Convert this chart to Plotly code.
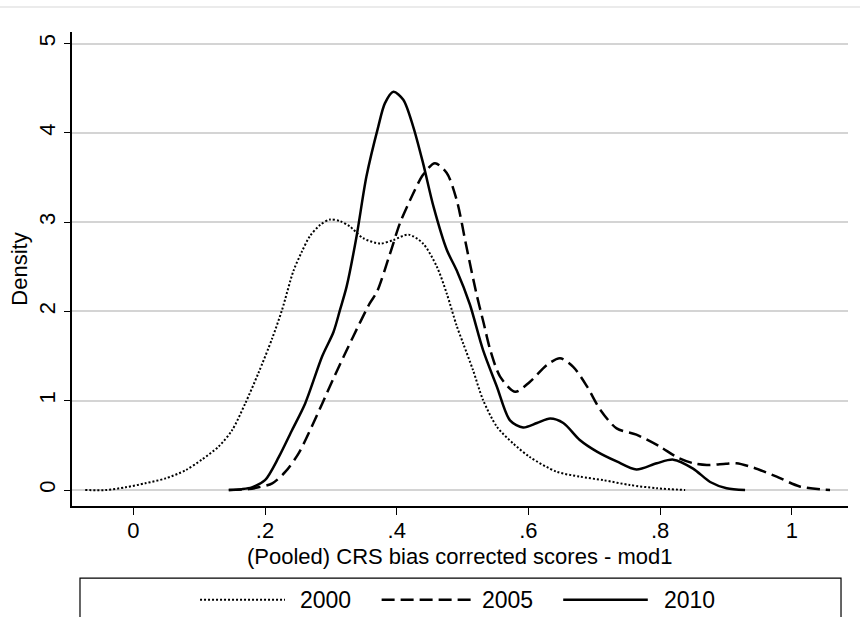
import plotly.graph_objects as go

# ---- data ----
x2000 = [-0.073, -0.042, -0.012, 0.018, 0.049, 0.079, 0.104, 0.130, 0.150, 0.170, 0.190, 0.211, 0.226,
         0.243, 0.256, 0.268, 0.284, 0.299, 0.314, 0.329, 0.349, 0.375, 0.395, 0.418, 0.440, 0.461,
         0.476, 0.491, 0.501, 0.516, 0.531, 0.552, 0.577, 0.602, 0.643, 0.678, 0.714, 0.754, 0.795, 0.838]
y2000 = [0.0, 0.0, 0.03, 0.075, 0.13, 0.22, 0.34, 0.49, 0.67, 0.97, 1.31, 1.70, 2.02,
         2.45, 2.67, 2.84, 2.97, 3.03, 3.01, 2.95, 2.82, 2.76, 2.80, 2.86, 2.76, 2.50,
         2.20, 1.84, 1.64, 1.34, 1.01, 0.71, 0.52, 0.37, 0.205, 0.15, 0.11, 0.056, 0.02, 0.0]

x2005 = [0.145, 0.175, 0.190, 0.211, 0.231, 0.251, 0.271, 0.287, 0.304, 0.334, 0.359, 0.370, 0.390,
         0.405, 0.425, 0.440, 0.458, 0.476, 0.491, 0.506, 0.521, 0.532, 0.542, 0.557, 0.580, 0.602,
         0.628, 0.648, 0.668, 0.689, 0.709, 0.734, 0.764, 0.800, 0.825, 0.850, 0.871, 0.900, 0.916,
         0.942, 0.977, 1.012, 1.058]
y2005 = [0.0, 0.01, 0.03, 0.075, 0.205, 0.41, 0.71, 0.97, 1.25, 1.72, 2.09, 2.22, 2.65,
         2.99, 3.32, 3.53, 3.66, 3.55, 3.25, 2.72, 2.20, 1.87, 1.57, 1.27, 1.10, 1.21,
         1.40, 1.475, 1.38, 1.16, 0.90, 0.69, 0.62, 0.485, 0.37, 0.30, 0.28, 0.295, 0.30,
         0.25, 0.15, 0.04, 0.0]

x2010 = [0.145, 0.165, 0.180, 0.200, 0.221, 0.241, 0.261, 0.287, 0.304, 0.314, 0.324, 0.339, 0.354,
         0.372, 0.382, 0.395, 0.410, 0.425, 0.440, 0.456, 0.476, 0.491, 0.511, 0.531, 0.552, 0.572,
         0.592, 0.613, 0.633, 0.653, 0.678, 0.704, 0.734, 0.764, 0.795, 0.820, 0.850, 0.876, 0.901, 0.929]
y2010 = [0.0, 0.01, 0.03, 0.11, 0.37, 0.67, 0.97, 1.50, 1.77, 2.02, 2.28, 2.84, 3.51,
         4.07, 4.33, 4.46, 4.37, 4.07, 3.66, 3.17, 2.69, 2.46, 2.08, 1.57, 1.16, 0.78,
         0.70, 0.75, 0.80, 0.75, 0.56, 0.43, 0.32, 0.23, 0.30, 0.34, 0.24, 0.09, 0.02, 0.0]

series_names = ["2000", "2005", "2010"]
x_tickvals = [0, 0.2, 0.4, 0.6, 0.8, 1.0]
x_ticktext = ["0", ".2", ".4", ".6", ".8", "1"]
y_tickvals = [0, 1, 2, 3, 4, 5]
y_ticktext = ["0", "1", "2", "3", "4", "5"]
x_title = "(Pooled) CRS bias corrected scores - mod1"
y_title = "Density"

FONT = "Liberation Sans, Arial, sans-serif"
FS = 22
styles = [
    dict(color="black", width=2, dash="2px,2px"),
    dict(color="black", width=2.5, dash="13px,6px"),
    dict(color="black", width=2.5, dash="solid"),
]

fig = go.Figure()
for name, xs, ys, st in zip(series_names, [x2000, x2005, x2010], [y2000, y2005, y2010], styles):
    fig.add_trace(go.Scatter(x=xs, y=ys, mode="lines", name=name,
                             line=dict(shape="spline", smoothing=0.8, **st), showlegend=False))

# legend drawn as a box below the plot
shapes = [
    dict(type="rect", xref="paper", yref="paper", x0=0.0103, x1=0.991, y0=-0.30, y1=-0.152,
         line=dict(color="black", width=1.2), fillcolor="white"),
    dict(type="line", xref="paper", yref="paper", x0=-0.0928, x1=1.0155, y0=1.0527, y1=1.0527,
         line=dict(color="#e4e4e4", width=1.5)),
]
leg_x = [(0.165, 0.2745), (0.399, 0.515), (0.633, 0.742)]
leg_tx = [0.291, 0.526, 0.760]
annotations = [dict(text=x_title, xref="paper", yref="paper", x=0.5, y=-0.1055,
                    xanchor="center", yanchor="middle", showarrow=False,
                    font=dict(family=FONT, size=FS, color="black"))]
for (a, b), tx, name, st in zip(leg_x, leg_tx, series_names, styles):
    shapes.append(dict(type="line", xref="paper", yref="paper", x0=a, x1=b, y0=-0.198, y1=-0.198,
                       line=dict(color=st["color"], width=st["width"], dash=st["dash"])))
    annotations.append(dict(text=name, xref="paper", yref="paper", x=tx, y=-0.198,
                            xanchor="left", yanchor="middle", showarrow=False,
                            font=dict(family=FONT, size=23, color="black")))

fig.update_layout(
    width=860, height=617,
    margin=dict(l=72, r=12, t=32, b=111, autoexpand=False),
    paper_bgcolor="white", plot_bgcolor="white",
    font=dict(family=FONT, size=FS, color="black"),
    shapes=shapes, annotations=annotations,
    xaxis=dict(range=[-0.0931, 1.0853], tickvals=x_tickvals, ticktext=x_ticktext,
               showgrid=False, zeroline=False, showline=True, linecolor="black", linewidth=1.5,
               ticks="outside", ticklen=7, tickcolor="black", tickwidth=1, automargin=False,
               ticklabelstandoff=-3,
               tickfont=dict(family=FONT, size=FS)),
    yaxis=dict(range=[-0.179, 5.129], tickvals=y_tickvals, ticktext=y_ticktext, tickangle=-90,
               showgrid=True, gridcolor="#d4d4d4", gridwidth=1.5, zeroline=False,
               showline=True, linecolor="black", linewidth=1.5, automargin=False,
               ticks="outside", ticklen=6, tickcolor="black", tickwidth=1,
               tickfont=dict(family=FONT, size=FS),
               title=dict(text=y_title, font=dict(family=FONT, size=FS), standoff=2)),
)

fig.write_html("out.html", config={"displayModeBar": False},
               post_script="document.body.style.margin='0px';")
